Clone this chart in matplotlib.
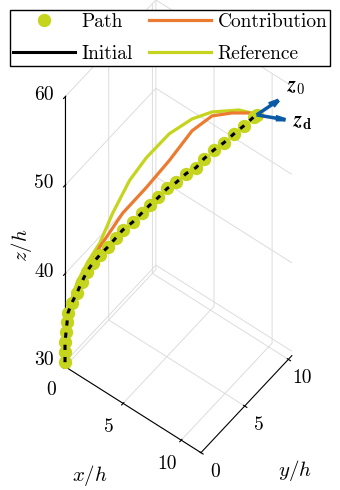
import numpy as np
import matplotlib
matplotlib.use('Agg')
import matplotlib.pyplot as plt
from matplotlib.lines import Line2D

plt.rcParams['font.family'] = 'serif'
plt.rcParams['font.serif'] = ['cmr10']
plt.rcParams['mathtext.fontset'] = 'cm'
plt.rcParams['axes.formatter.use_mathtext'] = True
plt.rcParams['font.size'] = 14

# path samples (x = y along the diagonal), z
path_xy = [0, 0, 0, 0.05, 0.1, 0.15, 0.34, 0.59, 0.83, 1.07, 1.37, 1.71, 2.10, 2.49, 2.83,
           3.32, 3.76, 4.15, 4.59, 5.02, 5.46, 5.95, 6.44, 6.83, 7.32, 7.80, 8.29, 8.78,
           9.27, 9.41]
path_z = [30.0, 31.12, 32.25, 33.36, 34.47, 35.58, 36.66, 37.73, 38.91, 40.0, 40.93, 41.75,
          42.56, 43.49, 44.31, 45.10, 46.01, 46.82, 47.62, 48.53, 49.11, 50.01, 50.58, 51.50,
          52.39, 53.08, 53.97, 54.77, 55.67, 55.87]

contrib_xy = [0, 0.05, 0.2, 0.39, 0.88, 1.71, 2.83, 4.0, 5.12, 6.24, 7.22, 8.20, 9.02, 9.41]
contrib_z = [30.0, 33.36, 35.91, 37.33, 39.13, 42.65, 46.22, 48.88, 51.66, 54.78, 56.24,
             56.36, 56.17, 55.87]

ref_xy = [0, 0.05, 0.24, 0.59, 1.12, 1.71, 2.34, 3.17, 4.0, 5.12, 6.24, 7.22, 8.54, 9.17, 9.41]
ref_z = [30.0, 33.36, 36.46, 38.86, 41.1, 43.10, 46.33, 49.85, 52.25, 54.69, 56.12, 56.69,
         56.62, 56.14, 55.87]

z0_vec = [1.25, 0.85, 1.8]
zd_vec = [1.8, 0.9, 0.0]

x_ticks = [0, 5, 10]
y_ticks = [0, 5, 10]
z_ticks = [30, 40, 50, 60]

green = '#c5d41c'
orange = '#ec7a30'
blue = '#0b5aa5'

fig = plt.figure(figsize=(3.4, 4.9), dpi=100)
ax = fig.add_axes([0.0113, 0.0288, 1.0, 1.0], projection='3d', proj_type='ortho')
ax.computed_zorder = False
ax.view_init(elev=55.3, azim=-52.4)
ax.set_box_aspect((172.8, 150, 477), zoom=1.5)

ax.plot(ref_xy, ref_xy, ref_z, color=green, lw=2.3, zorder=2)
ax.plot(contrib_xy, contrib_xy, contrib_z, color=orange, lw=2.3, zorder=3)
ax.plot(path_xy, path_xy, path_z, 'o', color=green, ms=8.6, zorder=4)
ax.plot(path_xy, path_xy, path_z, color='black', lw=2.2, ls=(0, (1.7, 2.3)), zorder=5)

ex, ey, ez = path_xy[-1], path_xy[-1], path_z[-1]
for v in (z0_vec, zd_vec):
    ax.quiver(ex, ey, ez, v[0], v[1], v[2], color=blue, lw=2.5, arrow_length_ratio=0.35, zorder=6)
ax.text(ex + 1.8 * z0_vec[0], ey + 1.8 * z0_vec[1], ez + 1.8 * z0_vec[2], r'$\boldsymbol{z}_\mathbf{0}$',
        ha='center', va='center', fontsize=15)
ax.text(ex + 1.6 * zd_vec[0], ey + 1.6 * zd_vec[1], ez + 1.6 * zd_vec[2], r'$\boldsymbol{z}_\mathbf{d}$',
        ha='center', va='center', fontsize=15)

xmax, ymax, zmin = 11.7, 10.4, 29.5
ax.set_xlim(0, xmax)
ax.set_ylim(0, ymax)
ax.set_zlim(zmin, 60)
ax.set_xticks(x_ticks)
ax.set_yticks(y_ticks)
ax.set_zticks(z_ticks)
ax.set_xticklabels([])
ax.set_yticklabels([])
ax.set_zticklabels([])
ax.zaxis.set_ticks_position('lower')

# tick labels placed next to the axes, MATLAB style
for t in x_ticks:
    ax.text(t, -1.59, zmin - 1.02, str(t), ha='center', va='center', fontsize=14)
for t in y_ticks:
    ax.text(xmax + 1.2, t, zmin - 1.14, str(t), ha='center', va='center', fontsize=14)
for t in z_ticks:
    ax.text(-1.38, -0.55, t - 0.35, str(t), ha='center', va='center', fontsize=14)

for a in (ax.xaxis, ax.yaxis, ax.zaxis):
    a.set_pane_color((1, 1, 1, 0))
    a.pane.set_edgecolor((1, 1, 1, 0))
    a._axinfo['grid']['color'] = '#dcdcdc'
    a._axinfo['grid']['linewidth'] = 0.7
    a.line.set_color('black')
    a.line.set_linewidth(0.8)

fig.text(90 / 340, 1 - 475 / 490, r'$x/h$', ha='center', va='center', fontsize=15)
fig.text(295 / 340, 1 - 470 / 490, r'$y/h$', ha='center', va='center', fontsize=15)
fig.text(22 / 340, 1 - 245 / 490, r'$z/h$', ha='center', va='center', fontsize=15, rotation=90)

handles = [Line2D([], [], ls='none', marker='o', color=green, ms=8.6),
           Line2D([], [], color='black', lw=2.2),
           Line2D([], [], color=orange, lw=2.3),
           Line2D([], [], color=green, lw=2.3)]
labels = ['Path', 'Initial', 'Contribution', 'Reference']
fig.legend(handles, labels, loc='upper center', bbox_to_anchor=(0.5, 1.0),
           ncol=2, fancybox=False, edgecolor='black', framealpha=1, fontsize=14,
           handlelength=3.2, handletextpad=0.35, columnspacing=0.8, borderpad=0.15,
           labelspacing=0.75)

fig.savefig('out.png', dpi=100)
